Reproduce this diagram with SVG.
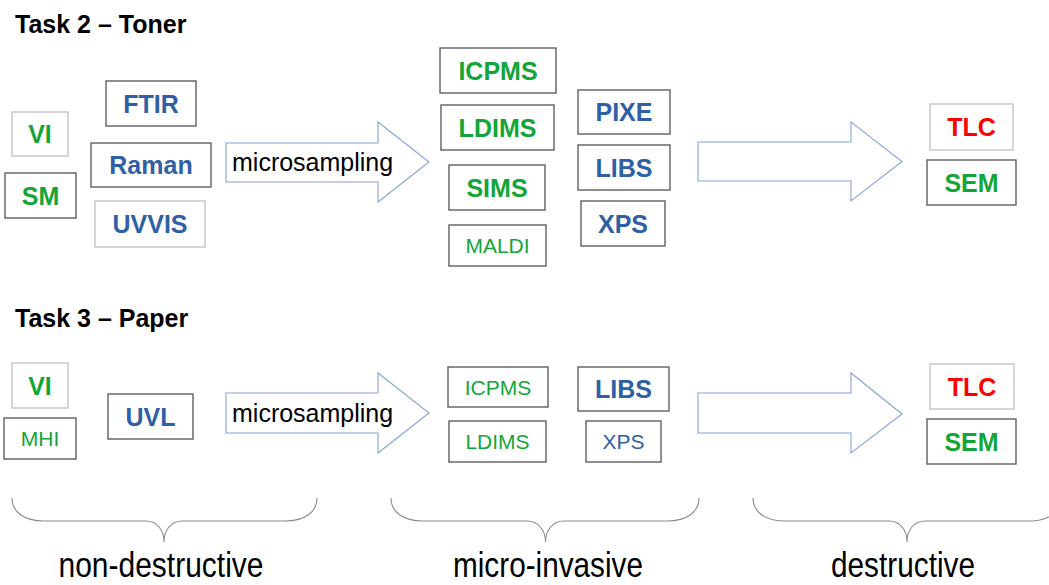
<svg xmlns="http://www.w3.org/2000/svg" width="1049" height="585" viewBox="0 0 1049 585">
<style>
  .box { fill: #ffffff; stroke: #5f5f5f; stroke-width: 1.4; }
  .lt { stroke: #c4c4c4; }
  .t { font-family: "Liberation Sans", Arial, sans-serif; text-anchor: middle; }
  .b { font-weight: bold; font-size: 25px; }
  .r { font-size: 21px; }
  .g { fill: #13a538; }
  .bl { fill: #2f5fa5; }
  .rd { fill: #ff0000; }
  .title { font-family: "Liberation Sans", Arial, sans-serif; font-weight: bold; font-size: 25px; fill: #000000; }
  .arrow { fill: #ffffff; stroke: #86a3d8; stroke-width: 1.1; stroke-linejoin: miter; }
  .arrlbl { font-family: "Liberation Sans", Arial, sans-serif; font-size: 25px; fill: #000000; }
  .brace { fill: none; stroke: #8a8a8a; stroke-width: 1.1; }
  .cat { font-family: "Liberation Sans", Arial, sans-serif; font-size: 35px; fill: #000000; text-anchor: middle; }
</style>
<rect width="1049" height="585" fill="#ffffff"/>

<text class="title" x="15" y="33">Task 2 – Toner</text>
<text class="title" x="15" y="327">Task 3 – Paper</text>

<g id="connectors">
  <polygon class="arrow" points="226,143 378,143 378,122 429,162 378,202 378,182 226,182"/>
  <text class="arrlbl" x="232" y="171">microsampling</text>
  <polygon class="arrow" points="698,142 851,142 851,122 902,161.5 851,201 851,181 698,181"/>
  <polygon class="arrow" points="226,393 378,393 378,373 429,413 378,453 378,433 226,433"/>
  <text class="arrlbl" x="232" y="422">microsampling</text>
  <polygon class="arrow" points="698,393 851,393 851,373 902,414 851,453 851,433 698,433"/>
</g>

<!-- Task 2 nodes -->
<g id="t2-vi"><rect class="box lt" x="12" y="112" width="56" height="44"/><text class="t b g" x="40" y="143">VI</text></g>
<g id="t2-sm"><rect class="box" x="5" y="173" width="71" height="45"/><text class="t b g" x="40.5" y="204.5">SM</text></g>
<g id="t2-ftir"><rect class="box" x="106" y="81" width="90" height="45"/><text class="t b bl" x="151" y="112.5">FTIR</text></g>
<g id="t2-raman"><rect class="box" x="91" y="143" width="120" height="44"/><text class="t b bl" x="151" y="174">Raman</text></g>
<g id="t2-uvvis"><rect class="box lt" x="95" y="201" width="110" height="46"/><text class="t b bl" x="150" y="233">UVVIS</text></g>
<g id="t2-icpms"><rect class="box" x="440" y="48" width="116" height="45"/><text class="t b g" x="498" y="79.5">ICPMS</text></g>
<g id="t2-ldims"><rect class="box" x="441" y="105" width="113" height="45"/><text class="t b g" x="497.5" y="136.5">LDIMS</text></g>
<g id="t2-sims"><rect class="box" x="449" y="165" width="96" height="45"/><text class="t b g" x="497" y="196.5">SIMS</text></g>
<g id="t2-maldi"><rect class="box" x="449" y="225" width="97" height="41"/><text class="t r g" x="497.5" y="253">MALDI</text></g>
<g id="t2-pixe"><rect class="box" x="578" y="90" width="92" height="44"/><text class="t b bl" x="624" y="121">PIXE</text></g>
<g id="t2-libs"><rect class="box" x="578" y="145" width="92" height="45"/><text class="t b bl" x="624" y="176.5">LIBS</text></g>
<g id="t2-xps"><rect class="box" x="581" y="201" width="84" height="45"/><text class="t b bl" x="623" y="232.5">XPS</text></g>
<g id="t2-tlc"><rect class="box lt" x="930" y="104" width="83" height="46"/><text class="t b rd" x="971.5" y="136">TLC</text></g>
<g id="t2-sem"><rect class="box" x="927" y="160" width="89" height="45"/><text class="t b g" x="971.5" y="191.5">SEM</text></g>

<!-- Task 3 nodes -->
<g id="t3-vi"><rect class="box lt" x="12" y="363" width="56" height="45"/><text class="t b g" x="40" y="394.5">VI</text></g>
<g id="t3-mhi"><rect class="box" x="4" y="418" width="72" height="41"/><text class="t r g" x="40" y="446">MHI</text></g>
<g id="t3-uvl"><rect class="box" x="108" y="394" width="85" height="45"/><text class="t b bl" x="150.5" y="425.5">UVL</text></g>
<g id="t3-icpms"><rect class="box" x="448" y="367" width="100" height="40"/><text class="t r g" x="498" y="394.5">ICPMS</text></g>
<g id="t3-ldims"><rect class="box" x="449" y="421" width="97" height="41"/><text class="t r g" x="497.5" y="449">LDIMS</text></g>
<g id="t3-libs"><rect class="box" x="578" y="367" width="91" height="44"/><text class="t b bl" x="623.5" y="398">LIBS</text></g>
<g id="t3-xps"><rect class="box" x="586" y="421" width="75" height="41"/><text class="t r bl" x="623.5" y="449">XPS</text></g>
<g id="t3-tlc"><rect class="box lt" x="930" y="364" width="84" height="45"/><text class="t b rd" x="972" y="395.5">TLC</text></g>
<g id="t3-sem"><rect class="box" x="927" y="419" width="89" height="45"/><text class="t b g" x="971.5" y="450.5">SEM</text></g>

<!-- Braces and categories -->
<g id="cat-nondestructive">
  <path class="brace" d="M12,498 C12,512 24,521 44,521 L146,521 C157,521 164,530 164,542 C164,530 171,521 182,521 L285,521 C305,521 317,512 317,498"/>
  <text class="cat" x="161" y="577" textLength="205" lengthAdjust="spacingAndGlyphs">non-destructive</text>
</g>
<g id="cat-microinvasive">
  <path class="brace" d="M391,498 C391,512 403,521 423,521 L527,521 C538,521 545.5,530 545.5,542 C545.5,530 553,521 564,521 L667,521 C687,521 699,512 699,498"/>
  <text class="cat" x="548" y="577" textLength="190" lengthAdjust="spacingAndGlyphs">micro-invasive</text>
</g>
<g id="cat-destructive">
  <path class="brace" d="M753,498 C753,512 765,521 785,521 L889,521 C900,521 907,530 907,542 C907,530 914,521 925,521 L1029,521 C1049,521 1061,512 1061,498"/>
  <text class="cat" x="903" y="577" textLength="144" lengthAdjust="spacingAndGlyphs">destructive</text>
</g>
</svg>
